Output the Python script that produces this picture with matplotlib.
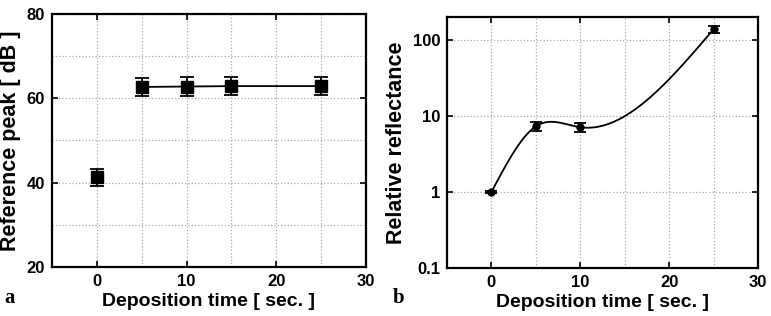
import numpy as np
import matplotlib.pyplot as plt
from matplotlib.ticker import MultipleLocator, FixedLocator

# panel a
time_a = [0, 5, 10, 15, 25]
peak_db = [41.3, 62.7, 62.8, 62.9, 62.9]
peak_err = [2.0, 2.2, 2.2, 2.2, 2.2]

# panel b
time_b = [0, 5, 10, 25]
reflectance = [1.0, 7.3, 7.1, 138.0]
refl_err = [0.03, 0.9, 0.9, 14.0]


def natural_spline(x, y, xs):
    """natural cubic spline through the points"""
    x, y = np.asarray(x, float), np.asarray(y, float)
    n = len(x)
    h = np.diff(x)
    A = np.zeros((n, n))
    b = np.zeros(n)
    A[0, 0] = A[-1, -1] = 1
    for i in range(1, n - 1):
        A[i, i - 1] = h[i - 1]
        A[i, i] = 2 * (h[i - 1] + h[i])
        A[i, i + 1] = h[i]
        b[i] = 6 * ((y[i + 1] - y[i]) / h[i] - (y[i] - y[i - 1]) / h[i - 1])
    m = np.linalg.solve(A, b)
    idx = np.clip(np.searchsorted(x, xs) - 1, 0, n - 2)
    x0, x1, hh = x[idx], x[idx + 1], h[idx]
    t0, t1 = x1 - xs, xs - x0
    return (m[idx] * t0 ** 3 + m[idx + 1] * t1 ** 3) / (6 * hh) \
        + (y[idx] / hh - m[idx] * hh / 6) * t0 + (y[idx + 1] / hh - m[idx + 1] * hh / 6) * t1


plt.rcParams['font.family'] = ['Liberation Sans', 'DejaVu Sans']
plt.rcParams['font.weight'] = 'bold'

fig = plt.figure(figsize=(7.71, 3.16), dpi=100)
W, H = 771, 316
ax1 = fig.add_axes([52 / W, 1 - 267 / H, 314 / W, 253 / H])
ax2 = fig.add_axes([447 / W, 1 - 268 / H, 311 / W, 251 / H])

grid_kw = dict(color='#aaaaaa', linestyle=':', linewidth=0.9)

for ax in (ax1, ax2):
    ax.set_xlim(-5, 30)
    ax.xaxis.set_major_locator(MultipleLocator(10))
    ax.xaxis.set_minor_locator(MultipleLocator(5))
    ax.tick_params(which='both', direction='in', top=True, right=True,
                   labelsize=12, width=1.2, length=4, pad=5)
    ax.tick_params(which='minor', length=0)
    for s in ax.spines.values():
        s.set_linewidth(1.6)
    ax.set_xlabel('Deposition time [ sec. ]', fontsize=14, fontweight='bold', labelpad=3)

# left panel
ax1.set_ylim(20, 80)
ax1.yaxis.set_major_locator(MultipleLocator(20))
ax1.yaxis.set_minor_locator(MultipleLocator(10))
ax1.grid(which='both', **grid_kw)
ax1.set_axisbelow(True)
ax1.plot(time_a[1:], peak_db[1:], color='black', linewidth=1.3, zorder=3)
ax1.errorbar(time_a, peak_db, yerr=peak_err, fmt='s', color='black', markersize=9,
             capsize=5, capthick=1.3, elinewidth=1.3, zorder=4)
ax1.set_ylabel('Reference peak [ dB ]', fontsize=15.5, fontweight='bold', labelpad=4)

# right panel
ax2.set_yscale('log')
ax2.set_ylim(0.1, 200)
ax2.yaxis.set_major_locator(FixedLocator([0.1, 1, 10, 100]))
ax2.yaxis.set_minor_locator(FixedLocator([]))
ax2.set_yticklabels(['0.1', '1', '10', '100'])
ax2.grid(which='both', **grid_kw)
ax2.set_axisbelow(True)
xs = np.linspace(time_b[0], time_b[-1], 300)
ax2.plot(xs, 10 ** natural_spline(time_b, np.log10(reflectance), xs),
         color='black', linewidth=1.3, zorder=3)
ax2.errorbar(time_b, reflectance, yerr=refl_err, fmt='o', color='black', markersize=5,
             capsize=4, capthick=1.3, elinewidth=1.3, zorder=4)
ax2.set_ylabel('Relative reflectance', fontsize=15.5, fontweight='bold', labelpad=4)

for ax in (ax1, ax2):
    for lab in ax.get_xticklabels() + ax.get_yticklabels():
        lab.set_fontweight('bold')

fig.text(4 / W, 1 - 303 / H, 'a', fontsize=15, fontweight='bold',
         family=['Liberation Serif', 'DejaVu Serif'], va='baseline')
fig.text(393 / W, 1 - 303 / H, 'b', fontsize=15, fontweight='bold',
         family=['Liberation Serif', 'DejaVu Serif'], va='baseline')

fig.savefig('out.png', dpi=100)
